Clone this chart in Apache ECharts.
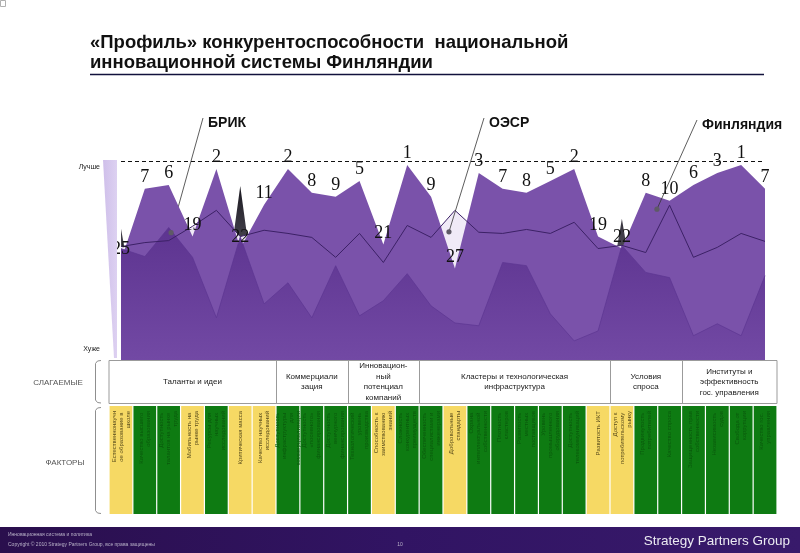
<!DOCTYPE html>
<html><head><meta charset="utf-8">
<script src="https://cdn.jsdelivr.net/npm/echarts@6/dist/echarts.min.js"></script>
<style>html,body{margin:0;padding:0;background:#fff}#c{width:800px;height:553px}</style>
</head><body><div id="c"></div>
<script>
// ---------- DATA ----------
const factors = [
  'Естественнонаучное образование в школе','Качество высшего образования','Доступность талантов на рынке труда',
  'Мобильность на рынке труда','Ресурсы для научных исследований','Критическая масса','Качество научных исследований',
  'Доступность инфраструктуры для коммерциализации','Доступность «посевного» финансирования','Доступность венчурного финансирования',
  'Технологический уровень производства','Способность к заимствованию знаний','Сложность конкурентных преимуществ',
  'Обеспеченность специалистами и инженерами','Добровольные стандарты','Охрана интеллектуальной собственности',
  'Плотность кластеров','Развитость местных поставщиков','Уровень промышленного оборудования',
  'Доступность телекоммуникаций','Развитость ИКТ','Доступ к потребительскому рынку',
  'Продвинутость потребителей','Качество спроса','Защищенность прав собственности',
  'Независимость судов','Свобода от коррупции','Качество гос. управления'
];
const factorKinds = ['Y','G','G','Y','G','Y','Y', 'G','G','G', 'G','Y','G', 'G','Y','G','G','G','G','G','Y', 'Y','G','G', 'G','G','G','G'];
const groupNames = ['Таланты и идеи','Коммерциали\nзация','Инновацион-\nный\nпотенциал\nкомпаний','Кластеры и технологическая\nинфраструктура','Условия\nспроса','Институты и\nэффективность\nгос. управления'];
const groupSizes = [7,3,3,8,3,4];
const finland = [25,7,6,19,2,22,11,2,8,9,5,21,1,9,27,3,7,8,5,2,19,22,8,10,6,3,1,7];
const oecd    = [21.5,20.5,20,16.4,12.4,19,17.4,18.2,19.2,24.2,18.2,25.5,16.2,19.2,12.4,17.9,18.2,17.2,18.2,15.4,22,21.2,23,11.1,24.2,21.7,18.2,20.2];
const bric    = [22,24,16.7,24.2,39.4,19,35.9,30.6,39.4,26.3,38.9,35.1,28.3,36.4,40.7,41.4,25.5,26.3,38.4,45.2,42.7,21.2,28,29.3,43.9,40.9,43.9,28.8];
const spikes  = [17,50,50,50,50,6.3,50,50,50,50,50,50,50,50,50,50,50,50,50,50,50,14.5,50,50,50,50,50,50];
const rankMax = 50;
const seriesNames = ['БРИК','ОЭСР','Финляндия'];

// ---------- CHART ----------
const chart = echarts.init(document.getElementById('c'), null, {renderer:'canvas', width:800, height:553});
const LG = echarts.graphic.LinearGradient;
const kindColor = {Y:'#f6d964', G:'#0e7b12'};
const kindText = {Y:'#5a4d1c', G:'#0a5a0c'};

chart.setOption({
  animation:false,
  backgroundColor:'#ffffff',
  grid:[
    {left:121, right:35, top:161, bottom:193},
    {left:109, right:23, top:406, bottom:39}
  ],
  xAxis:[
    {type:'category', gridIndex:0, data:factors, boundaryGap:false, show:false},
    {type:'category', gridIndex:1, data:factors, boundaryGap:true, show:false}
  ],
  yAxis:[
    {type:'value', gridIndex:0, min:0, max:rankMax, inverse:true, show:false},
    {type:'value', gridIndex:1, min:0, max:1, show:false}
  ],
  series:[
    {type:'line', name:'spikes', data:spikes, symbol:'none', z:1, silent:true,
     lineStyle:{width:0}, areaStyle:{origin:'end', opacity:1,
       color:new LG(0,0,0,1,[{offset:0,color:'#1c1a22'},{offset:0.35,color:'#4a4752'},{offset:1,color:'#8a8890'}])}},
    {type:'line', name:seriesNames[1]+' area', data:oecd, symbol:'none', z:2, silent:true,
     lineStyle:{width:0}, areaStyle:{origin:'end', opacity:1, color:'#f0eaf7'}},
    {type:'line', name:seriesNames[2], data:finland, symbol:'none', z:3, silent:true,
     lineStyle:{width:0}, areaStyle:{origin:'end', opacity:1, color:'#7a52aa'}},
    {type:'line', name:seriesNames[0], data:bric, symbol:'none', z:4, silent:true,
     lineStyle:{width:0.7, color:'#5b3590'},
     areaStyle:{origin:'end', opacity:1,
       color:new LG(0,0,0,1,[{offset:0,color:'#5d3490'},{offset:1,color:'#7249a4'}])}},
    {type:'line', name:seriesNames[1], data:oecd, symbol:'none', z:5, silent:true,
     lineStyle:{width:1, color:'#3c2166'}},
    {type:'line', name:'labels', data:finland, z:10, silent:true,
     symbol:'circle', symbolSize:1, itemStyle:{color:'rgba(0,0,0,0)'},
     lineStyle:{width:0, opacity:0},
     label:{show:true, position:'top', distance:2, fontFamily:'Liberation Serif', fontSize:18, color:'#111'},
     markLine:{silent:true, symbol:['none','none'], label:{show:false},
       lineStyle:{type:[4,3], color:'#111', width:1}, data:[{yAxis:0}]}},
    {type:'bar', xAxisIndex:1, yAxisIndex:1, z:2, silent:true, barCategoryGap:'5%',
     data:factorKinds.map((k,i)=>({value:1, name:factors[i], itemStyle:{color:kindColor[k]},
        label:{color:kindText[k]}})),
     label:{show:true, position:'insideTop', rotate:90, align:'right', verticalAlign:'middle', distance:5,
       fontFamily:'Liberation Sans', fontSize:6, lineHeight:7, width:98, overflow:'break',
       formatter:p=>p.name}}
  ]
});

// ---------- ANNOTATIONS ----------
function px0(fi, v){
  const i0 = Math.floor(fi), i1 = Math.min(i0+1, factors.length-1), t = fi - i0;
  const a = chart.convertToPixel({xAxisIndex:0, yAxisIndex:0}, [i0, v]);
  const b = chart.convertToPixel({xAxisIndex:0, yAxisIndex:0}, [i1, v]);
  return [a[0] + (b[0]-a[0])*t, a[1]];
}
const c0 = chart.convertToPixel({xAxisIndex:1}, 0);
const c1 = chart.convertToPixel({xAxisIndex:1}, 1);
const step = c1 - c0;
const colLeft = i => c0 - step/2 + i*step;

const g = [];
// title
g.push({type:'text', x:90, y:43, z:50, style:{text:'«Профиль» конкурентоспособности  национальной', font:'bold 18.5px "Liberation Sans"', fill:'#111', verticalAlign:'middle'}});
g.push({type:'text', x:90, y:63, z:50, style:{text:'инновационной системы Финляндии', font:'bold 18.5px "Liberation Sans"', fill:'#111', verticalAlign:'middle'}});
g.push({type:'line', z:50, shape:{x1:90, y1:74.5, x2:764, y2:74.5}, style:{stroke:'#12123c', lineWidth:1.5}});
g.push({type:'rect', z:50, shape:{x:0.5, y:0.5, width:5, height:6}, style:{fill:'none', stroke:'#b0b0b0', lineWidth:1}});

// better / worse wedge
g.push({type:'polygon', z:50, shape:{points:[[103,160],[117,160],[117,358],[114,358]]},
  style:{fill:new LG(0,0,1,0,[{offset:0,color:'#cfbfea'},{offset:1,color:'#ddd1f1'}])}});
g.push({type:'text', x:100, y:167, z:50, style:{text:'Лучше', font:'7px "Liberation Sans"', fill:'#222', align:'right', verticalAlign:'middle'}});
g.push({type:'text', x:100, y:349, z:50, style:{text:'Хуже', font:'7px "Liberation Sans"', fill:'#222', align:'right', verticalAlign:'middle'}});

// callouts
const callouts = [
  {name:seriesNames[0], top:[203,118], at:[2.1, 18], lineZ:0},
  {name:seriesNames[1], top:[484,118], at:[13.75, 17.8], lineZ:60},
  {name:seriesNames[2], top:[697,120], at:[22.47, 12.1], lineZ:60}
];
callouts.forEach(c=>{
  const p = px0(c.at[0], c.at[1]);
  g.push({type:'line', z:c.lineZ, shape:{x1:c.top[0], y1:c.top[1], x2:p[0], y2:p[1]}, style:{stroke:'#333', lineWidth:0.8}});
  g.push({type:'circle', z:61, shape:{cx:p[0], cy:p[1], r:2.6}, style:{fill:'#5e5a66'}});
  g.push({type:'text', x:c.top[0]+5, y:c.top[1]+5, z:61, style:{text:c.name, font:'bold 14px "Liberation Sans"', fill:'#111', verticalAlign:'middle'}});
});

// header row (groups)
const boxL = colLeft(0), boxR = colLeft(factors.length);
g.push({type:'rect', z:20, shape:{x:boxL, y:360.5, width:boxR-boxL, height:43}, style:{fill:'#fff', stroke:'#9b9b9b', lineWidth:1}});
let start = 0;
groupSizes.forEach((n,k)=>{
  const l = colLeft(start), r = colLeft(start+n);
  if (k>0) g.push({type:'line', z:21, shape:{x1:Math.round(l)+0.5, y1:360.5, x2:Math.round(l)+0.5, y2:403.5}, style:{stroke:'#9b9b9b', lineWidth:1}});
  g.push({type:'text', x:(l+r)/2, y:382, z:22, style:{text:groupNames[k], font:'8px "Liberation Sans"', fill:'#1a1a1a', align:'center', verticalAlign:'middle', lineHeight:10.5}});
  start += n;
});
// row captions + brackets
g.push({type:'text', x:58, y:383, z:22, style:{text:'СЛАГАЕМЫЕ', font:'8px "Liberation Sans"', fill:'#555', align:'center', verticalAlign:'middle'}});
g.push({type:'text', x:65, y:463, z:22, style:{text:'ФАКТОРЫ', font:'8px "Liberation Sans"', fill:'#555', align:'center', verticalAlign:'middle'}});
g.push({type:'polyline', z:22, shape:{points:[[101,360.5],[97.5,361],[95.5,363.5],[95.5,400],[97.5,402.5],[101,403]]}, style:{fill:'none', stroke:'#8f8f8f', lineWidth:1}});
g.push({type:'polyline', z:22, shape:{points:[[101,407.5],[97.5,408],[95.5,410.5],[95.5,510.5],[97.5,513],[101,513.5]]}, style:{fill:'none', stroke:'#8f8f8f', lineWidth:1}});

// footer
g.push({type:'rect', z:30, shape:{x:0, y:527, width:800, height:26},
  style:{fill:new LG(0,0,1,0,[{offset:0,color:'#2a0f4d'},{offset:0.5,color:'#311463'},{offset:1,color:'#381a6b'}])}});
g.push({type:'text', x:8, y:535, z:31, style:{text:'Инновационная система и политика', font:'5px "Liberation Sans"', fill:'#b9b2c8', verticalAlign:'middle'}});
g.push({type:'text', x:8, y:545, z:31, style:{text:'Copyright © 2010 Strategy Partners Group, все права защищены', font:'5px "Liberation Sans"', fill:'#b9b2c8', verticalAlign:'middle'}});
g.push({type:'text', x:400, y:545, z:31, style:{text:'10', font:'5px "Liberation Sans"', fill:'#b9b2c8', align:'center', verticalAlign:'middle'}});
g.push({type:'text', x:790, y:541, z:31, style:{text:'Strategy Partners Group', font:'13.5px "Liberation Sans"', fill:'#ecebf2', align:'right', verticalAlign:'middle'}});

chart.setOption({graphic:{elements:g}});
</script>
</body></html>
